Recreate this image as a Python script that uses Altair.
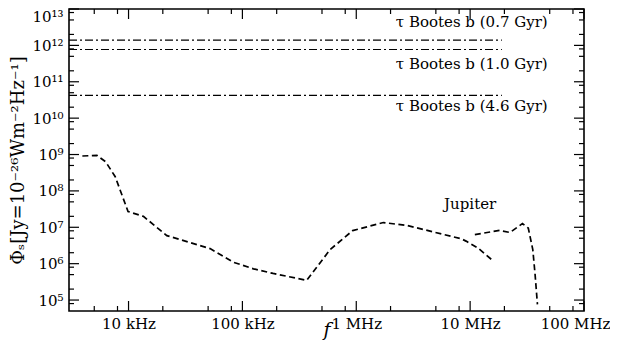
import json
import altair as alt
import pandas as pd

# ---------------- data ----------------
# Jupiter spectrum (main, dashed)
main_freq = [3.93e3, 5.28e3, 6.3e3, 7.64e3, 9.9e3, 1.35e4, 2.17e4, 5.2e4, 8.3e4,
             1.25e5, 1.86e5, 3.67e5, 5.9e5, 9.3e5, 1.73e6, 2.8e6, 8.4e6, 9.3e6,
             1.17e7, 1.58e7]
main_flux = [9.1e8, 9.5e8, 6.3e8, 2.45e8, 2.72e7, 2.0e7, 5.9e6, 2.6e6, 1.1e6,
             7.2e5, 5.4e5, 3.47e5, 2.45e6, 8.1e6, 1.35e7, 1.12e7, 4.8e6, 4.1e6,
             2.7e6, 1.22e6]
# Jupiter decametric branch (dashed)
dam_freq = [1.1e7, 1.82e7, 2.24e7, 2.88e7, 3.24e7, 3.55e7, 3.72e7, 3.9e7]
dam_flux = [6.3e6, 8.2e6, 7.2e6, 1.26e7, 9.5e6, 2.45e6, 5.0e5, 7.6e4]

# tau Bootes b levels (dash-dot)
tau_names = ["τ Bootes b (0.7 Gyr)", "τ Bootes b (1.0 Gyr)", "τ Bootes b (4.6 Gyr)"]
tau_flux = [1.4e12, 7.7e11, 4.2e10]
tau_f_start = [3.0e3, 3.0e3, 3.0e3]
tau_f_end = [1.9e7, 1.9e7, 1.9e7]
tau_label_freq = [4.8e7, 4.8e7, 4.8e7]
tau_label_flux = [4.5e12, 3.0e11, 2.1e10]

jup_text = ["Jupiter"]
jup_text_freq = [1.0e7]
jup_text_flux = [4.4e7]

x_domain = [3.0e3, 1.0e8]
y_domain = [5.0e4, 1.0e13]
x_tick_values = [1e4, 1e5, 1e6, 1e7, 1e8]
x_tick_labels = ["10 kHz", "100 kHz", "1 MHz", "10 MHz", "100 MHz"]
y_tick_values = [1e5, 1e6, 1e7, 1e8, 1e9, 1e10, 1e11, 1e12, 1e13]
y_tick_labels = ["10⁵", "10⁶", "10⁷", "10⁸", "10⁹", "10¹⁰", "10¹¹", "10¹²", "10¹³"]
minor_mult = [2, 5, 8]
x_minor = [m * 10 ** k for k in range(3, 8) for m in minor_mult
           if x_domain[0] < m * 10 ** k < x_domain[1]]
y_minor = [m * 10 ** k for k in range(4, 13) for m in minor_mult
           if y_domain[0] < m * 10 ** k < y_domain[1]]

# ---------------- tables ----------------
main_df = pd.DataFrame({"f": main_freq, "S": main_flux})
dam_df = pd.DataFrame({"f": dam_freq, "S": dam_flux})
tau_df = pd.DataFrame({"f": tau_f_start, "f2": tau_f_end, "S": tau_flux})
tau_txt = pd.DataFrame({"f": tau_label_freq, "S": tau_label_flux, "t": tau_names})
jup_df = pd.DataFrame({"f": jup_text_freq, "S": jup_text_flux, "t": jup_text})
xmaj_df = pd.DataFrame({"f": x_tick_values})
xmin_df = pd.DataFrame({"f": x_minor})
ymaj_df = pd.DataFrame({"S": y_tick_values})
ymin_df = pd.DataFrame({"S": y_minor})

W, H = 515, 302
FONT = "DejaVu Serif"
MAJ, MIN = 10, 5

xscale = alt.Scale(type="log", domain=x_domain, nice=False)
yscale = alt.Scale(type="log", domain=y_domain, nice=False)

xaxis = alt.Axis(
    values=x_tick_values,
    labelExpr=json.dumps(x_tick_labels) + "[round(log(datum.value)/LN10)-4]",
    ticks=False, domain=False, grid=False, labelFlush=False,
    labelOffset={"condition": {"test": "datum.value >= 5e7", "value": -9}, "value": 0},
    labelFont=FONT, labelFontSize=15, labelColor="black", labelPadding=5,
    title="f", titleFont=FONT, titleFontStyle="italic", titleFontWeight="normal",
    titleFontSize=19, titleColor="black", titleY=24, titleBaseline="alphabetic",
)
yaxis = alt.Axis(
    values=y_tick_values,
    labelExpr=json.dumps(y_tick_labels, ensure_ascii=False) + "[round(log(datum.value)/LN10)-5]",
    ticks=False, domain=False, grid=False, labelFlush=True,
    labelFont=FONT, labelFontSize=15, labelColor="black", labelPadding=6,
    title="Φₛ[Jy=10⁻²⁶Wm⁻²Hz⁻¹]", titleFont=FONT, titleFontWeight="normal",
    titleFontSize=18, titleColor="black", titleAngle=270, titleX=-51, titleY=H / 2,
    titleAlign="center", titleBaseline="middle",
)


def X(field="f"):
    return alt.X(field, type="quantitative", scale=xscale, axis=xaxis)


def Y(field="S"):
    return alt.Y(field, type="quantitative", scale=yscale, axis=yaxis)


main_line = alt.Chart(main_df).mark_line(
    color="black", strokeWidth=1.7, strokeDash=[6, 3.5]
).encode(x=X(), y=Y())
dam_line = alt.Chart(dam_df).mark_line(
    color="black", strokeWidth=1.7, strokeDash=[6, 3.5]
).encode(x=X(), y=Y())
tau_lines = alt.Chart(tau_df).mark_rule(
    color="black", strokeWidth=1.2, strokeDash=[8, 3, 2, 3]
).encode(x=X(), x2="f2", y=Y())
tau_labels = alt.Chart(tau_txt).mark_text(
    font=FONT, fontSize=15, align="right", baseline="middle", color="black"
).encode(x=X(), y=Y(), text="t")
jup_label = alt.Chart(jup_df).mark_text(
    font=FONT, fontSize=15, align="center", baseline="middle", color="black"
).encode(x=X(), y=Y(), text="t")


def xticks(df, L):
    bottom = alt.Chart(df).mark_rule(color="black", strokeWidth=1.2).encode(
        x=X(), y=alt.value(H), y2=alt.value(H - L))
    top = alt.Chart(df).mark_rule(color="black", strokeWidth=1.2).encode(
        x=X(), y=alt.value(0), y2=alt.value(L))
    return [bottom, top]


def yticks(df, L):
    left = alt.Chart(df).mark_rule(color="black", strokeWidth=1.2).encode(
        y=Y(), x=alt.value(0), x2=alt.value(L))
    right = alt.Chart(df).mark_rule(color="black", strokeWidth=1.2).encode(
        y=Y(), x=alt.value(W), x2=alt.value(W - L))
    return [left, right]


layers = [main_line, dam_line, tau_lines, tau_labels, jup_label]
layers += xticks(xmaj_df, MAJ) + xticks(xmin_df, MIN)
layers += yticks(ymaj_df, MAJ) + yticks(ymin_df, MIN)

chart = alt.layer(*layers).properties(
    width=W, height=H,
    autosize=alt.AutoSizeParams(type="none"),
    padding={"left": 61, "top": 1, "right": 26, "bottom": 29},
    background="white",
).configure_view(stroke="black", strokeWidth=1.6)

chart.save("out.html", embed_options={"renderer": "svg", "actions": False})
